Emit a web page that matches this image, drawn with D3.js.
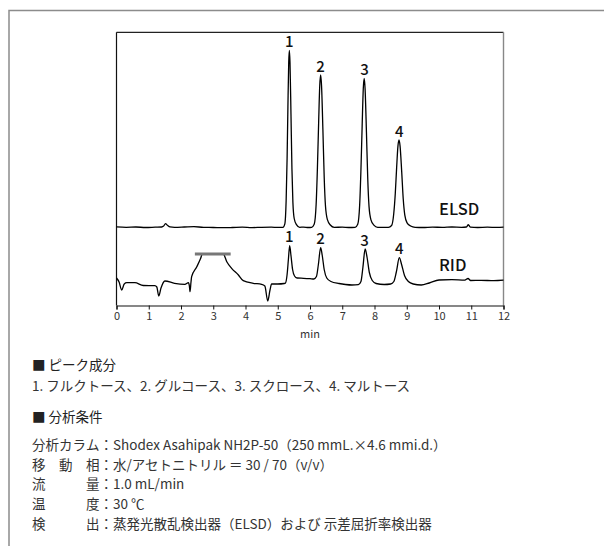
<!DOCTYPE html>
<html><head><meta charset="utf-8">
<script src="https://cdn.jsdelivr.net/npm/d3@7"></script>
<style>
body{margin:0;background:#fff}
svg{display:block}
text{font-family:"Noto Sans CJK JP","Noto Sans",sans-serif}
</style>
</head><body><svg width="604" height="546"></svg>
<script>
// ---------------- data ----------------
const xTicks = [0,1,2,3,4,5,6,7,8,9,10,11,12];
const xLabel = "min";

const elsdTime = [0,0.3,0.6,0.9,1.2,1.4,1.46,1.52,1.58,1.66,1.8,2.1,2.4,2.7,3.0,3.3,3.6,3.9,4.2,4.5,4.8,5.0,5.16,
 5.22,5.26,5.29,5.315,5.34,5.36,5.38,5.41,5.44,5.47,5.51,5.58,5.68,5.8,5.95,6.05,
 6.13,6.19,6.23,6.267,6.302,6.33,6.358,6.40,6.44,6.48,6.54,6.63,6.75,7.0,7.2,7.4,
 7.48,7.54,7.58,7.617,7.652,7.68,7.708,7.75,7.79,7.83,7.89,7.98,8.10,8.25,8.43,
 8.53,8.595,8.645,8.686,8.727,8.76,8.793,8.843,8.89,8.94,9.01,9.12,9.26,9.5,9.8,10.1,10.4,10.7,10.85,10.91,10.97,11.2,11.5,11.8,12];
const elsdSignal = [78.6,78.2,78.5,78.0,78.3,78.5,79.4,81.8,80.2,78.6,78.2,78.5,78.9,78.1,78.0,77.8,78.0,78.3,77.9,78.2,78.3,78.1,78.2,
 81.7,104.8,147.2,198.6,242.8,255,242.8,191.5,136.6,103,87,80.9,78.2,78.4,78.0,78.2,
 81.2,101.0,137.6,181.8,219.8,230.5,219.8,175.7,128.5,99.5,85.8,80.5,78.2,78.3,78.0,78.2,
 81.2,100.5,136.3,179.5,216.8,227.2,216.8,173.6,127.4,99.1,85.7,80.4,78.2,78.1,78.2,
 80,91.3,112.2,137.6,159.4,165.5,159.4,134.1,107,90.4,82.6,79.5,78.2,78.0,78.4,78.1,78.5,78.2,78.5,80.8,78.4,78.0,78.3,78.1,78.4];

const ridTime = [0,0.08,0.16,0.24,0.32,0.57,0.83,1.19,1.25,1.31,1.38,1.5,1.8,2.12,2.23,2.26,2.28,2.31,2.33,2.49,2.61,2.66,3.31,3.42,3.57,3.78,3.93,4.24,4.5,4.6,4.69,4.76,4.81,5.0,5.2,
 5.24,5.29,5.33,5.37,5.41,5.46,5.52,5.6,5.8,6.0,6.12,
 6.2,6.26,6.33,6.38,6.44,6.52,6.65,6.9,7.1,7.3,7.5,
 7.58,7.64,7.71,7.77,7.84,7.93,8.05,8.3,8.5,
 8.6,8.68,8.77,8.84,8.93,9.05,9.2,9.45,9.7,10.0,10.4,10.8,10.9,10.98,11.3,11.7,12.0];
const ridSignal = [27.5,23.5,15.5,21.5,22.8,22.8,20,19.8,18.5,9.5,17.5,24.5,22.2,21.2,22.8,19.5,13.8,23.5,28.8,38.8,47.2,51.5,51.5,43.8,37.2,30.5,24.8,22.2,21.2,19.5,4.5,15.5,21.5,21.5,22,
 22.5,31,46,59.8,50,36,29.5,27.5,27.2,26.8,26.5,
 29,41,57.8,50,36,27.5,24,22,21,20.5,20.8,
 24,38,56.5,48,33,25,22,21,21.5,
 24,34,47.8,41,30,24,21.5,20.5,22.5,25.5,25.8,25.3,27,25,25.2,24.8,25.3];

const peakNames = ["1","2","3","4"];
const peakTimes = [5.36,6.33,7.69,8.77];
const ridOffscale = [2.43,3.54];   // min range of the off-scale marker
const ridOffscaleLevel = 51.5;

const traceNames = ["ELSD","RID"];

const compTitle = "■ ピーク成分";
const compText = "1. フルクトース、2. グルコース、3. スクロース、4. マルトース";
const condTitle = "■ 分析条件";
const condLabels = [["分","析","カ","ラ","ム"],["移","","動","","相"],["流","","","","量"],["温","","","","度"],["検","","","","出"]];
const condValues = ["Shodex Asahipak NH2P-50（250 mmL.×4.6 mmi.d.）","水/アセトニトリル ＝ 30 / 70（v/v）","1.0 mL/min","30 ℃","蒸発光散乱検出器（ELSD）および 示差屈折率検出器"];

// ---------------- drawing ----------------
const svg = d3.select("svg");
const L = 116.5, R = 503.5, T = 32.3, B = 305.5;
const x = d3.scaleLinear().domain([0,12]).range([L,R]);
const y = d3.scaleLinear().domain([0,273.2]).range([B,T]);

// outer frame
svg.append("path").attr("d",`M9,546 V10.5 H604`).attr("fill","none").attr("stroke","#8c8c8c").attr("stroke-width",1.5);

// plot frame
svg.append("line").attr("x1",L).attr("x2",L).attr("y1",T).attr("y2",B).attr("stroke","#111").attr("stroke-width",1.2);
svg.append("line").attr("x1",L).attr("x2",R).attr("y1",T).attr("y2",T).attr("stroke","#222").attr("stroke-width",1.2);
svg.append("line").attr("x1",R).attr("x2",R).attr("y1",T).attr("y2",B).attr("stroke","#888").attr("stroke-width",1.4);

// axis
const ax = svg.append("g").attr("transform",`translate(0,${B})`)
  .call(d3.axisBottom(x).tickValues(xTicks).tickSize(4).tickSizeOuter(4).tickPadding(3).tickFormat(d3.format("d")));
ax.select(".domain").attr("stroke","#111").attr("stroke-width",1.2);
ax.selectAll(".tick line").attr("stroke","#111").attr("stroke-width",1);
ax.selectAll(".tick text").attr("fill","#333").style("font-size","11px").style("font-family",'"Noto Sans CJK JP",sans-serif');
svg.append("text").attr("x",(L+R)/2).attr("y",338).attr("text-anchor","middle").attr("fill","#333").style("font-size","11px").text(xLabel);

// traces
const line = d3.line().x(d=>x(d[0])).y(d=>y(d[1])).curve(d3.curveMonotoneX);
const elsd = elsdTime.map((t,i)=>[t,elsdSignal[i]]);
const rid = ridTime.map((t,i)=>[t,ridSignal[i]]);
svg.append("path").attr("d",line(elsd)).attr("fill","none").attr("stroke","#000").attr("stroke-width",1.3).attr("stroke-linejoin","round");
svg.append("path").attr("d",line(rid)).attr("fill","none").attr("stroke","#000").attr("stroke-width",1.3).attr("stroke-linejoin","round");

// off-scale marker
svg.append("line").attr("x1",x(ridOffscale[0])).attr("x2",x(ridOffscale[1]))
  .attr("y1",y(ridOffscaleLevel)).attr("y2",y(ridOffscaleLevel)).attr("stroke","#777").attr("stroke-width",3);

// peak labels
function apex(data,t){
  const w = data.filter(d=>Math.abs(d[0]-t)<0.1);
  return d3.max(w,d=>d[1]);
}
[elsd,rid].forEach(data=>{
  peakTimes.forEach((t,i)=>{
    svg.append("text").attr("x",x(t)).attr("y",y(apex(data,t))-3.5)
      .attr("text-anchor","middle").attr("fill","#111").style("font-size","15px").style("font-weight","500")
      .text(peakNames[i]);
  });
});

// trace names
svg.append("text").attr("x",439).attr("y",215).attr("fill","#111").style("font-size","16.5px").style("font-weight","500").text(traceNames[0]);
svg.append("text").attr("x",439).attr("y",271).attr("fill","#111").style("font-size","16.5px").style("font-weight","500").text(traceNames[1]);

// text block
const fs = 13.5, x0 = 32;
function t(xp,yp,s,fill){ return svg.append("text").attr("x",xp).attr("y",yp).attr("fill",fill||"#333").style("font-size",fs+"px").text(s); }
t(x0,370,compTitle,"#222");
t(x0,391,compText);
t(x0,422,condTitle,"#222");
const rows = [450,469.5,489,508.5,529];
condLabels.forEach((lab,i)=>{
  lab.forEach((c,j)=>{ if(c) t(x0+j*fs,rows[i],c); });
  t(x0+5*fs,rows[i],"：");
  t(x0+6*fs,rows[i],condValues[i]);
});
</script></body></html>
